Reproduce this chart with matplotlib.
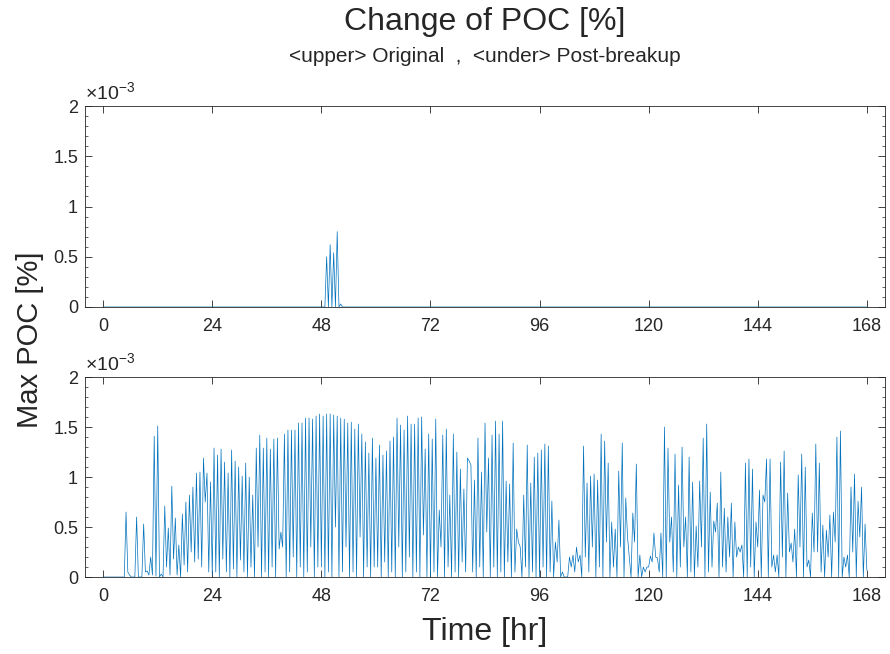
import numpy as np
import matplotlib
matplotlib.use("Agg")
import matplotlib.pyplot as plt
from matplotlib.ticker import MultipleLocator

plt.rcParams['font.family'] = ['Liberation Sans', 'DejaVu Sans']
plt.rcParams['mathtext.fontset'] = 'custom'
plt.rcParams['mathtext.rm'] = 'Liberation Sans'

# Max POC, units of 1e-3 %.  The signal flips every sample, so it is kept as
# the peak and trough values of each oscillation, one row per day (31 each).
post_peaks = [
    [0, 0, 0, 0, 0, 0, 0.65, 0.02, 0, 0.60, 0, 0.53, 0.06, 0.20, 1.41, 1.51,
     0.03, 0.71, 0.49, 0.91, 0.59, 0.32, 0.63, 0.75, 0.82, 0.90, 1.04, 1.05, 1.19, 1.04, 0.95],
    [1.29, 1.22, 1.28, 1.15, 1.04, 1.27, 1.16, 1.10, 1.01, 1.14, 1.00, 0.82, 1.29, 1.42, 1.29, 1.39,
     1.28, 1.38, 1.39, 0.45, 1.43, 1.47, 1.47, 1.47, 1.54, 1.54, 1.59, 1.59, 1.58, 1.61, 1.63],
    [1.61, 1.63, 1.63, 1.62, 1.61, 1.59, 1.58, 1.54, 1.55, 1.48, 1.53, 1.43, 1.35, 1.24, 1.39, 1.19,
     1.32, 1.22, 1.26, 1.36, 1.40, 1.59, 1.52, 1.47, 1.61, 1.53, 1.53, 1.59, 1.60, 1.28, 1.43],
    [1.38, 1.58, 0.67, 1.42, 1.48, 0.82, 1.43, 1.25, 1.08, 0.88, 1.19, 1.12, 0.97, 1.39, 1.05, 1.54,
     1.19, 1.42, 1.56, 1.43, 1.56, 0.96, 0.93, 1.34, 0.48, 0.30, 0.82, 1.32, 0.94, 1.20, 1.24],
    [1.27, 1.33, 1.31, 0.76, 0.35, 0.57, 0.05, 0.0, 0.20, 0.22, 0.30, 0.22, 1.31, 0.94, 1.01, 1.03,
     0.97, 1.43, 1.36, 1.14, 0.55, 0.48, 1.06, 1.34, 0.79, 0.20, 0.64, 1.13, 0.22, 0.10, 0.10],
    [0.21, 0.44, 0.19, 0.44, 1.50, 1.29, 0.60, 1.23, 0.92, 1.30, 0.60, 1.20, 0.95, 0.51, 0.96, 1.39,
     1.53, 0.85, 0.56, 0.74, 1.05, 0.69, 0.60, 0.74, 0.55, 0.30, 0.32, 1.14, 1.18, 1.08, 0.55],
    [0.87, 0.82, 1.18, 1.18, 0.22, 0.22, 1.15, 1.26, 0.84, 0.34, 0.48, 1.02, 1.23, 1.10, 0.17, 0.64,
     1.33, 1.14, 0.52, 0.47, 0.62, 0.65, 1.40, 1.46, 0.20, 0.22, 0.90, 1.03, 0.76, 0.90, 0.53],
]
post_troughs = [
    [0, 0, 0, 0, 0, 0, 0, 0.05, 0, 0, 0, 0, 0.05, 0.02, 0.02, 0.01,
     0, 0, 0.10, 0.02, 0.18, 0.02, 0, 0.12, 0.05, 0.25, 0.15, 0.18, 0.10, 0.75, 0.05],
    [0.02, 0.05, 0.0, 0.18, 0.05, 0.0, 0.08, 0.0, 0.17, 0.05, 0.0, 0.10, 0.0, 0.30, 0.0, 0.05,
     0.0, 0.10, 0.0, 0.28, 0.30, 0.0, 0.05, 0.20, 0.0, 0.10, 0.0, 0.05, 0.30, 0.0, 0.10],
    [0.10, 0.0, 0.05, 0.0, 0.50, 0.0, 0.05, 0.30, 0.0, 0.05, 0.0, 0.40, 0.0, 0.10, 0.0, 0.10,
     0.10, 0.0, 0.15, 0.0, 0.05, 0.0, 0.30, 0.0, 0.05, 0.20, 0.0, 0.05, 0.0, 0.42, 0.0],
    [0.0, 0.05, 0.0, 0.30, 0.0, 0.10, 0.0, 0.05, 0.0, 0.15, 0.05, 1.16, 0.05, 0.0, 0.10, 0.0,
     0.45, 0.0, 0.10, 0.0, 0.05, 0.0, 0.15, 0.0, 0.05, 0.35, 0.0, 0.10, 0.0, 0.05, 0.0],
    [0.0, 0.10, 0.0, 0.05, 0.0, 0.15, 0.0, 0.0, 0.0, 0.10, 0.05, 0.15, 0.0, 0.20, 0.05, 0.30,
     0.0, 0.10, 0.0, 0.35, 0.0, 0.10, 0.0, 0.30, 0.0, 0.40, 0.0, 0.35, 0.0, 0.0, 0.05],
    [0.10, 0.15, 0.20, 0.05, 0.0, 0.0, 0.35, 0.05, 0.0, 0.10, 0.30, 0.0, 0.05, 0.0, 0.10, 0.30,
     0.0, 0.05, 0.10, 0.45, 0.0, 0.10, 0.05, 0.20, 0.0, 0.20, 0.25, 0.0, 0.0, 0.10, 0.0],
    [0.30, 0.0, 0.75, 0.0, 0.10, 0.05, 0.0, 0.20, 0.0, 0.25, 0.15, 0.0, 0.30, 0.0, 0.10, 0.0,
     0.25, 0.25, 0.05, 0.0, 0.20, 0.0, 0.35, 0.0, 0.0, 0.10, 0.0, 0.25, 0.0, 0.40, 0.0],
]
post_last = 0.07

# original run: zero except a short burst around hour 50
orig_peak_idx = [63, 64, 65, 66, 67]
orig_peak_val = [0.50, 0.62, 0.54, 0.75, 0.03]

t_end = 168
xticks = [0, 24, 48, 72, 96, 120, 144, 168]
yticks = [0, 0.5, 1, 1.5, 2]
ytick_labels = ['0', '0.5', '1', '1.5', '2']

peaks = np.concatenate([np.asarray(r, float) for r in post_peaks])
troughs = np.append(np.concatenate([np.asarray(r, float) for r in post_troughs]), post_last)
post = np.empty(peaks.size + troughs.size)
post[0::2] = troughs
post[1::2] = peaks
orig = np.zeros_like(post)
orig[2 * np.array(orig_peak_idx) + 1] = orig_peak_val
t = np.linspace(0, t_end, post.size)

fig = plt.figure(figsize=(8.9, 6.54), dpi=100)
ax1 = fig.add_axes([0.0955, 0.5306, 0.8989, 0.3073])
ax2 = fig.add_axes([0.0955, 0.1177, 0.8989, 0.3058])

axcol = '#262626'
for ax, y in ((ax1, orig), (ax2, post)):
    ax.plot(t, y, color='#0072BD', lw=0.5)
    ax.set_xlim(-4, 172)
    ax.set_ylim(0, 2)
    ax.set_xticks(xticks)
    ax.set_yticks(yticks)
    ax.set_yticklabels(ytick_labels)
    ax.yaxis.set_minor_locator(MultipleLocator(0.1))
    ax.tick_params(which='both', direction='in', top=True, right=True,
                   colors=axcol, labelsize=13)
    ax.tick_params(which='major', length=5, width=0.6)
    ax.tick_params(which='minor', length=2.5, width=0.5)
    ax.tick_params(axis='x', pad=8)
    ax.tick_params(axis='y', pad=5)
    for sp in ax.spines.values():
        sp.set_color(axcol)
        sp.set_linewidth(0.6)
    ax.text(0.0, 1.01, r'$\times10^{-3}$', transform=ax.transAxes,
            ha='left', va='bottom', fontsize=14, color=axcol)

fig.text(0.545, 1 - 22 / 654, 'Change of POC [%]', ha='center', va='center',
         fontsize=23, color=axcol)
fig.text(0.545, 1 - 57 / 654, '<upper> Original  ,  <under> Post-breakup',
         ha='center', va='center', fontsize=15, color=axcol)
fig.text(0.034, 0.48, 'Max POC [%]', rotation=90, ha='center', va='center',
         fontsize=21, color=axcol)
fig.text(0.545, 0.034, 'Time [hr]', ha='center', va='center',
         fontsize=23, color=axcol)

fig.savefig('out.png', dpi=100)
